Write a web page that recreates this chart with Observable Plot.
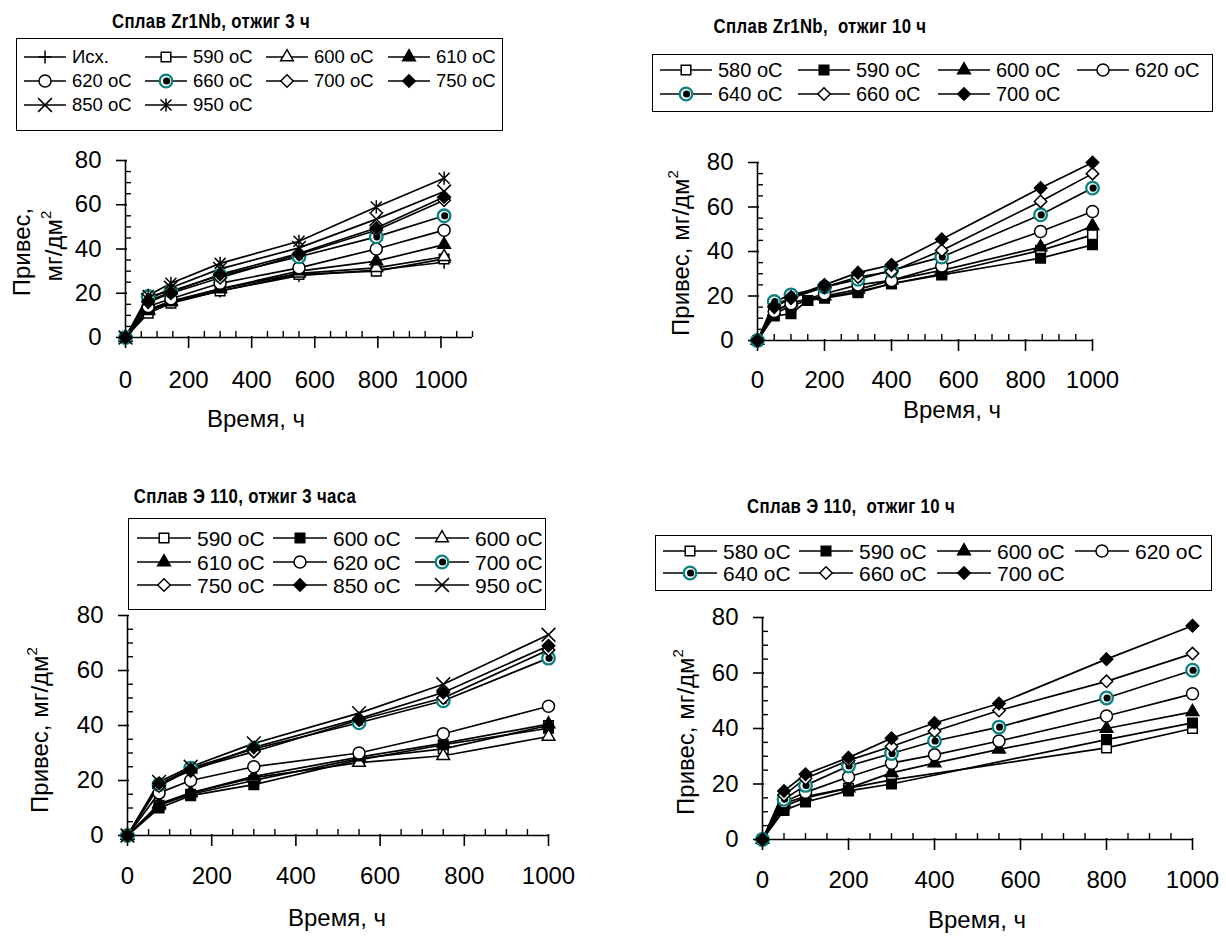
<!DOCTYPE html>
<html><head><meta charset="utf-8">
<script src="https://cdn.jsdelivr.net/npm/d3@7"></script>
<script src="https://cdn.jsdelivr.net/npm/@observablehq/plot@0.6"></script>
<style>
body{margin:0;background:#fff;}
#root{position:relative;width:1226px;height:940px;font-family:"Liberation Sans",Arial,sans-serif;color:#000;overflow:hidden;background:#fff;}
.abs{position:absolute;}
.title{font-family:"Liberation Sans",Arial,sans-serif;font-weight:bold;font-size:21px;letter-spacing:0.4px;white-space:nowrap;transform:translate(-50%,-50%) scaleX(0.8);line-height:1;}
.legend{position:absolute;border:1.6px solid #000;box-sizing:border-box;background:#fff;}
.li{position:absolute;display:flex;align-items:center;white-space:nowrap;transform:translateY(-50%);line-height:1;}
.li svg{display:block;}
.ylab{position:absolute;font-size:24px;white-space:nowrap;transform:translate(-50%,-50%) rotate(-90deg);line-height:1;}
.ylab sup{font-size:15px;vertical-align:top;position:relative;top:-4px;}
.xlab{position:absolute;font-size:24px;white-space:nowrap;transform:translate(-50%,-50%);line-height:1;}
svg.plot{position:absolute;}
</style></head>
<body><div id="root"></div>
<script>
// ---------- DATA ----------
// Panel 1: Сплав Zr1Nb, отжиг 3 ч
const zr3Times = [0, 72, 144, 300, 550, 795, 1010];
const zr3Labels = ["Исх.", "590 oC", "600 oC", "610 oC", "620 oC", "660 oC", "700 oC", "750 oC", "850 oC", "950 oC"];
const zr3_isx = [0, 12, 16, 21, 28, 30.5, 34];
const zr3_590 = [0, 11, 15.5, 21, 28.5, 30, 35.5];
const zr3_600 = [0, 12, 16, 22, 29, 31.5, 36.5];
const zr3_610 = [0, 12.5, 16.5, 22, 30, 34.5, 42];
const zr3_620 = [0, 14, 17.5, 24.5, 31.5, 40, 48.5];
const zr3_660 = [0, 18.5, 21, 28, 36.5, 45.5, 55];
const zr3_700 = [0, 16, 20, 27, 37.5, 48.5, 62];
const zr3_750 = [0, 16.5, 20.5, 28.5, 38, 49.5, 63.5];
const zr3_850 = [0, 17, 22.5, 31, 40.5, 53.5, 66];
const zr3_950 = [0, 19, 24.5, 33.5, 43.5, 59, 72];

// Panel 2: Сплав Zr1Nb, отжиг 10 ч
const zr10Times = [0, 50, 100, 150, 200, 300, 400, 550, 845, 1000];
const zr10Labels = ["580 oC", "590 oC", "600 oC", "620 oC", "640 oC", "660 oC", "700 oC"];
const zr10_580 = [0, 12, 15.5, 18, 19.5, 22, 25.5, 30, 40.5, 47.5];
const zr10_590 = [0, 11, 12, 18, 19, 21.5, 25.5, 29.5, 37, 43];
const zr10_600 = [0, 13, 17, null, 20, 23, 27, 31.5, 42, 51.5];
const zr10_620 = [0, 13, 16.5, null, 21, 25, 27, 33.5, 49, 58];
const zr10_640 = [0, 17.5, 20.5, null, 24, 27.5, 31.5, 37.5, 56.5, 68.5];
const zr10_660 = [0, 15, 19, null, 24, 28.5, 31, 40.5, 62.5, 75];
const zr10_700 = [0, 15.5, 19.5, null, 25, 30.5, 34, 45.5, 68.5, 80];

// Panel 3: Сплав Э 110, отжиг 3 часа
const e3Times = [0, 75, 150, 300, 550, 750, 1000];
const e3Labels = ["590 oC", "600 oC", "600 oC", "610 oC", "620 oC", "700 oC", "750 oC", "850 oC", "950 oC"];
const e3_590 = [0, 11, 15, 20, 28, 31.5, 40];
const e3_600a = [0, 10, 14.5, 18.5, 27.5, 33, 39];
const e3_600b = [0, 11.5, 15.5, 21, 26.5, 29, 36];
const e3_610 = [0, 11, 15.5, 21.5, 28.5, 33.5, 40.5];
const e3_620 = [0, 15.5, 20, 25, 30, 37, 47];
const e3_700 = [0, 18.5, 24.5, 31.5, 41, 49, 64.5];
const e3_750 = [0, 18, 24, 30.5, 42, 50, 67.5];
const e3_850 = [0, 19, 23.5, 32, 42.5, 52, 69];
const e3_950 = [0, 19.5, 25, 33.5, 44.5, 55, 73];

// Panel 4: Сплав Э 110, отжиг 10 ч
const e10Times = [0, 50, 100, 200, 300, 400, 550, 800, 1000];
const e10Labels = ["580 oC", "590 oC", "600 oC", "620 oC", "640 oC", "660 oC", "700 oC"];
const e10_580 = [0, 12, 15, 18.5, 21.5, null, null, 33, 40];
const e10_590 = [0, 10.5, 13.5, 17.5, 20, null, null, 36, 42];
const e10_600 = [0, 13, 15.5, 18.5, 24, 27.5, 32.5, 40, 46];
const e10_620 = [0, 13.5, 17, 22.5, 27.5, 30.5, 35.5, 44.5, 52.5];
const e10_640 = [0, 14.5, 19.5, 26.5, 31, 35.5, 40.5, 51, 61];
const e10_660 = [0, 16, 22, 28.5, 33.5, 39, 46.5, 57, 67];
const e10_700 = [0, 17.5, 23.5, 29.5, 36.5, 42, 49, 65, 77];

const xMajorTicks = [0, 200, 400, 600, 800, 1000];
const yMajorTicks = [0, 20, 40, 60, 80];
const xLabelText = "Время, ч";

// ---------- STYLES ----------
const SYM = {
  plus: d3.symbolPlus, square: d3.symbolSquare, triangle: d3.symbolTriangle,
  circle: d3.symbolCircle, diamond: d3.symbolDiamond2, times: d3.symbolTimes,
  star: {draw(c, size) { const r = Math.sqrt(size / Math.PI);
    c.moveTo(-r, -r); c.lineTo(r, r); c.moveTo(-r, r); c.lineTo(r, -r);
    c.moveTo(0, -r * 1.2); c.lineTo(0, r * 1.2); }}
};
const MARK = {
  plus: {sym: "plus", fill: "none", r: 4.3},
  sqO: {sym: "square", fill: "#fff", r: 5.4},
  sqF: {sym: "square", fill: "#000", r: 5.4},
  triO: {sym: "triangle", fill: "#fff", r: 4.7},
  triF: {sym: "triangle", fill: "#000", r: 4.7},
  cirO: {sym: "circle", fill: "#fff", r: 6},
  teal: {sym: "circle", fill: "#fff", r: 6.3, stroke: "#0b8181", sw: 2.3, dot: 3.6},
  diaO: {sym: "diamond", fill: "#fff", r: 5.6},
  diaF: {sym: "diamond", fill: "#000", r: 5.6},
  times: {sym: "times", fill: "none", r: 6.3},
  star: {sym: "star", fill: "none", r: 5.5}
};

const root = document.getElementById("root");

function swatch(m, w) {
  const h = 22;
  const path = d3.symbol(SYM[m.sym], m.r * m.r * Math.PI)();
  let s = `<svg width="${w}" height="${h}"><line x1="0" x2="${w}" y1="${h/2}" y2="${h/2}" stroke="#000" stroke-width="1.6"/>`;
  s += `<path d="${path}" transform="translate(${w/2},${h/2})" fill="${m.fill}" stroke="${m.stroke || '#000'}" stroke-width="${m.sw || 1.5}"/>`;
  if (m.dot) s += `<circle cx="${w/2 + 0.6}" cy="${h/2}" r="${m.dot}" fill="#000"/>`;
  return s + "</svg>";
}

function el(cls, html, css) {
  const d = document.createElement("div");
  d.className = cls; d.innerHTML = html;
  Object.assign(d.style, css);
  root.appendChild(d);
  return d;
}

function panel(c) {
  el("abs title", c.title, {left: c.titleX + "px", top: c.titleY + "px"});
  const lg = el("legend", "", {left: c.lg.x + "px", top: c.lg.y + "px", width: c.lg.w + "px", height: c.lg.h + "px"});
  c.labels.forEach((lab, i) => {
    const col = i % c.lg.cols.length, row = Math.floor(i / c.lg.cols.length);
    const it = document.createElement("div");
    it.className = "li";
    it.style.fontSize = c.lg.fs + "px";
    it.innerHTML = swatch(MARK[c.markers[i]], c.lg.sw) + `<span style="margin-left:${c.lg.gap}px">` + lab + "</span>";
    it.style.left = c.lg.cols[col] + "px";
    it.style.top = c.lg.rows[row] + "px";
    lg.appendChild(it);
  });
  const rows = [];
  c.series.forEach((vals, k) => vals.forEach((v, i) => { if (v !== null) rows.push({t: c.times[i], v, k}); }));
  const innerW = c.w - c.ml - c.mr, innerH = c.h - c.mt - c.mb;
  const xMinors = d3.range(50, c.xMax + 1, 50).filter(d => d % 200 !== 0);
  const yMinors = d3.range(5, 80, 5).filter(d => d % 20 !== 0);
  const marks = [
    Plot.ruleX(xMinors, {x: d => d, insetTop: innerH - 6, stroke: "#000", strokeWidth: 1.4}),
    Plot.ruleX(xMajorTicks, {x: d => d, insetTop: innerH - 1, insetBottom: -11, stroke: "#000", strokeWidth: 1.6}),
    Plot.ruleY(yMinors, {y: d => d, insetRight: innerW - 6, stroke: "#000", strokeWidth: 1.4}),
    Plot.ruleY(yMajorTicks, {y: d => d, insetLeft: -9, insetRight: innerW - 2, stroke: "#000", strokeWidth: 1.6}),
    Plot.ruleY([0], {stroke: "#000", strokeWidth: 1.6}),
    Plot.ruleX([0], {stroke: "#000", strokeWidth: 1.6}),
    Plot.text(xMajorTicks, {x: d => d, frameAnchor: "bottom", dy: c.xdy, text: d => String(d), fontSize: 24}),
    Plot.text(yMajorTicks, {y: d => d, frameAnchor: "left", dx: -24, textAnchor: "end", text: d => String(d), fontSize: 24}),
    Plot.line(rows, {x: "t", y: "v", z: "k", stroke: "#000", strokeWidth: 1.7})
  ];
  c.markers.forEach((mk, k) => {
    const m = MARK[mk];
    const sub = rows.filter(r => r.k === k);
    marks.push(Plot.dot(sub, {x: "t", y: "v", symbol: SYM[m.sym], r: m.r, fill: m.fill, stroke: m.stroke || "#000", strokeWidth: m.sw || 1.5}));
    if (m.dot) marks.push(Plot.dot(sub, {x: "t", y: "v", r: m.dot, fill: "#000", stroke: "none", dx: 0.6}));
  });
  const svg = Plot.plot({
    width: c.w, height: c.h, marginLeft: c.ml, marginRight: c.mr, marginTop: c.mt, marginBottom: c.mb,
    x: {domain: [0, c.xMax], axis: null}, y: {domain: [0, 80], axis: null},
    style: {fontFamily: "'Liberation Sans', Arial, sans-serif", fontSize: "24px", color: "#000", background: "transparent", overflow: "visible"},
    marks
  });
  svg.classList.add("plot");
  svg.style.left = c.x + "px"; svg.style.top = c.y + "px";
  root.appendChild(svg);
  el("xlab", xLabelText, {left: c.xlabX + "px", top: c.xlabY + "px"});
  c.ylab.forEach(l => el("ylab", l.html, {left: l.x + "px", top: l.y + "px"}));
}

panel({
  title: "Сплав Zr1Nb, отжиг 3 ч", titleX: 211, titleY: 20,
  labels: zr3Labels, times: zr3Times,
  series: [zr3_isx, zr3_590, zr3_600, zr3_610, zr3_620, zr3_660, zr3_700, zr3_750, zr3_850, zr3_950],
  markers: ["plus", "sqO", "triO", "triF", "cirO", "teal", "diaO", "diaF", "times", "star"],
  lg: {x: 16, y: 38, w: 487, h: 93, cols: [7, 128, 249, 371], rows: [18, 42, 66], fs: 18.5, sw: 42, gap: 6},
  x: 0, y: 130, w: 600, h: 310, ml: 125, mr: 128, mt: 30, mb: 103, xMax: 1100, xdy: 50,
  xlabX: 256, xlabY: 419,
  ylab: [{html: "Привес,", x: 22, y: 252}, {html: "мг/дм<sup>2</sup>", x: 54, y: 246}]
});

panel({
  title: "Сплав Zr1Nb,&nbsp; отжиг 10 ч", titleX: 820, titleY: 25,
  labels: zr10Labels, times: zr10Times,
  series: [zr10_580, zr10_590, zr10_600, zr10_620, zr10_640, zr10_660, zr10_700],
  markers: ["sqO", "sqF", "triF", "cirO", "teal", "diaO", "diaF"],
  lg: {x: 652, y: 54, w: 561, h: 58, cols: [7, 145, 285, 424], rows: [15, 39], fs: 20, sw: 52, gap: 6},
  x: 620, y: 130, w: 606, h: 310, ml: 137, mr: 134, mt: 32, mb: 100, xMax: 1000, xdy: 47,
  xlabX: 952, xlabY: 410,
  ylab: [{html: "Привес, мг/дм<sup>2</sup>", x: 681, y: 253}]
});

panel({
  title: "Сплав Э 110, отжиг 3 часа", titleX: 245, titleY: 495,
  labels: e3Labels, times: e3Times,
  series: [e3_590, e3_600a, e3_600b, e3_610, e3_620, e3_700, e3_750, e3_850, e3_950],
  markers: ["sqO", "sqF", "triO", "triF", "cirO", "teal", "diaO", "diaF", "times"],
  lg: {x: 128, y: 518, w: 418, h: 92, cols: [8, 144, 286], rows: [19, 43, 66], fs: 21, sw: 54, gap: 6},
  x: 0, y: 590, w: 600, h: 350, ml: 127, mr: 52, mt: 25, mb: 105, xMax: 1000, xdy: 48,
  xlabX: 337, xlabY: 918,
  ylab: [{html: "Привес, мг/дм<sup>2</sup>", x: 40, y: 730}]
});

panel({
  title: "Сплав Э 110,&nbsp; отжиг 10 ч", titleX: 851, titleY: 505,
  labels: e10Labels, times: e10Times,
  series: [e10_580, e10_590, e10_600, e10_620, e10_640, e10_660, e10_700],
  markers: ["sqO", "sqF", "triF", "cirO", "teal", "diaO", "diaF"],
  lg: {x: 655, y: 535, w: 557, h: 56, cols: [7, 143, 281, 419], rows: [15, 37], fs: 21, sw: 54, gap: 6},
  x: 620, y: 590, w: 606, h: 350, ml: 142, mr: 34, mt: 27, mb: 101, xMax: 1000, xdy: 48,
  xlabX: 977, xlabY: 920,
  ylab: [{html: "Привес, мг/дм<sup>2</sup>", x: 686, y: 732}]
});
</script>
</body></html>
